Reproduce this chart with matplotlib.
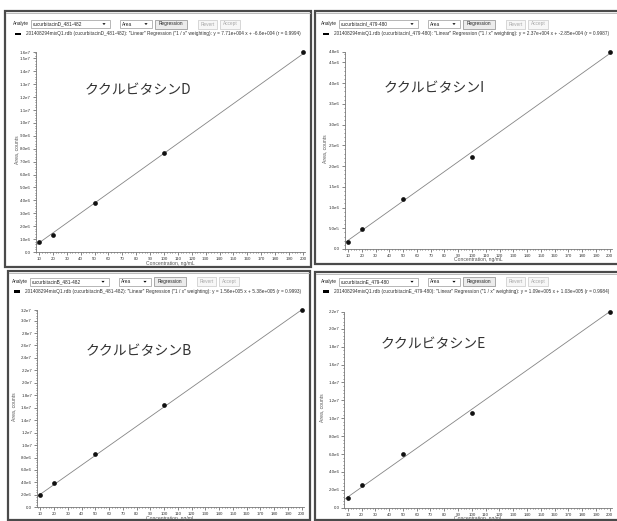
import numpy as np
import matplotlib.pyplot as plt
from matplotlib.patches import Rectangle, Polygon
from matplotlib.ticker import FixedLocator, FuncFormatter, MultipleLocator

W, H = 617, 521

# calibration data read per compound
conc = [10, 20, 50, 100, 200]
names = ['ククルビタシンD', 'ククルビタシンI', 'ククルビタシンB', 'ククルビタシンE']
analytes = ['cucurbitacinD_481-482', 'cucurbitacinI_479-480',
            'cucurbitacinB_481-482', 'cucurbitacinE_479-480']
area_d = [7.7e5, 1.33e6, 3.82e6, 7.7e6, 1.55e7]
area_i = [1.6e5, 4.9e5, 1.2e6, 2.23e6, 4.75e6]
area_b = [2.0e6, 3.9e6, 8.6e6, 1.64e7, 3.17e7]
area_e = [1.12e6, 2.57e6, 6.0e6, 1.06e7, 2.19e7]
areas = [area_d, area_i, area_b, area_e]
slopes = [7.71e4, 2.37e4, 1.56e5, 1.09e5]
intercepts = [-6.6e4, -2.85e4, 5.38e5, 1.03e5]
slope_txt = ['7.71e+004', '2.37e+004', '1.56e+005', '1.09e+005']
intercept_txt = ['-6.6e+004', '-2.85e+004', '5.38e+005', '1.03e+005']
r_txt = ['0.9994', '0.9987', '0.9993', '0.9984']
y_steps = [1e6, 5e5, 2e6, 2e6]

# panel geometry in pixels (x0, y0, x1, y1), y measured from the top
frames = [(5, 11, 311, 267), (315, 11, 619, 264), (8, 271, 310, 520), (315, 272, 619, 520)]
axes_px = [(35.5, 52, 305, 252), (344.6, 52, 611.8, 249),
           (36.9, 310, 303.8, 507.3), (344.3, 311.7, 611.8, 507.7)]
heads = [(13, 24), (321, 24), (12, 281.7), (321, 281.7)]
titles_xy = [(85, 90), (384, 88.3), (86, 351), (381, 344.3)]
ylabel_x = [17, 324.7, 13.3, 321.3]

SMALL = 'Liberation Sans'

fig = plt.figure(figsize=(W / 100, H / 100), dpi=100)
bg = fig.add_axes([0, 0, 1, 1])
bg.set_xlim(0, W)
bg.set_ylim(H, 0)
bg.axis('off')
bg.set_zorder(0)


def sci(v, pos=None):
    if v == 0:
        return '0.0'
    m, e = f'{v:.1e}'.split('e')
    return f'{m}e{int(e)}'


def combo(x, y, w, text, h=8):
    bg.add_patch(Rectangle((x, y - h / 2), w, h, fc='white', ec='#9a9a9a', lw=0.5))
    bg.text(x + 2, y, text, fontsize=3.4, family=SMALL, color='#222', va='center')
    tx = x + w - 6
    bg.add_patch(Polygon([(tx - 1.6, y - 0.8), (tx + 1.6, y - 0.8), (tx, y + 1.0)],
                         fc='black', ec='none'))


def button(x, y, w, text, enabled=True, h=9):
    fc = '#ececec' if enabled else '#f7f7f7'
    ec = '#8a8a8a' if enabled else '#c8c8c8'
    tc = '#222' if enabled else '#a8a8a8'
    bg.add_patch(Rectangle((x, y - h / 2), w, h, fc=fc, ec=ec, lw=0.5))
    bg.text(x + w / 2, y, text, fontsize=3.4, family=SMALL, color=tc,
            va='center', ha='center')


for k in range(4):
    x0, y0, x1, y1 = frames[k]
    bg.add_patch(Rectangle((x0, y0), x1 - x0, y1 - y0, fc='white', ec='#4a4a4a', lw=1.6))
    bg.plot([x0 + 1, x1 - 1], [y0 + 2, y0 + 2], color='#b0b0b0', lw=0.6)

    hx, hy = heads[k]
    bg.text(hx, hy, 'Analyte', fontsize=3.4, family=SMALL, color='#222', va='center')
    combo(hx + 18, hy, 79, analytes[k])
    combo(hx + 107, hy, 32, 'Area')
    button(hx + 142, hy, 32, 'Regression')
    button(hx + 185, hy, 19, 'Revert', enabled=False)
    button(hx + 207, hy, 20, 'Accept', enabled=False)

    ly = hy + 10
    bg.add_patch(Rectangle((hx + 2, ly - 1.3), 6, 2.6, fc='black', ec='none'))
    reg = (f'201408294mixQ1.rdb ({analytes[k]}): "Linear" Regression ("1 / x" weighting): '
           f'y = {slope_txt[k]} x + {intercept_txt[k]} (r = {r_txt[k]})')
    bg.text(hx + 13, ly, reg, fontsize=3.45, family=SMALL, color='#333', va='center')

    # calibration plot
    l, t, r, b = axes_px[k]
    ax = fig.add_axes([l / W, 1 - b / H, (r - l) / W, (b - t) / H])
    ax.set_zorder(1)
    ax.patch.set_alpha(0)
    top = areas[k][-1]
    xs = np.array([7.5, 200])
    ax.plot(xs, slopes[k] * xs + intercepts[k], color='#858585', lw=0.6)
    ax.plot(conc, areas[k], 'o', color='#111', markersize=3.4, mew=0, clip_on=False)
    ax.set_xlim(7.5, 201.5)
    ax.set_ylim(0, top)

    ax.set_xticks(np.arange(10, 201, 10))
    ax.xaxis.set_minor_locator(MultipleLocator(2))
    yt = list(np.arange(0, top - y_steps[k] * 0.05, y_steps[k])) + [top]
    ax.yaxis.set_major_locator(FixedLocator(yt))
    ax.yaxis.set_major_formatter(FuncFormatter(sci))
    ax.yaxis.set_minor_locator(MultipleLocator(y_steps[k] / 5))
    ax.tick_params(which='both', labelsize=3.2, colors='#555', labelcolor='#333',
                   direction='out', width=0.5, pad=1.5)
    ax.tick_params(which='major', length=2)
    ax.tick_params(which='minor', length=1)
    for lab in ax.get_xticklabels() + ax.get_yticklabels():
        lab.set_family(SMALL)
    for side in ('top', 'right'):
        ax.spines[side].set_visible(False)
    for side in ('left', 'bottom'):
        ax.spines[side].set_color('#777')
        ax.spines[side].set_linewidth(0.6)

    bg.text(ylabel_x[k], (t + b) / 2 - 2, 'Area, counts', rotation=90, fontsize=3.6,
            family=SMALL, color='#555', ha='center', va='center')
    bg.text((l + r) / 2, b + 11, 'Concentration, ng/mL', fontsize=3.6,
            family=SMALL, color='#555', ha='center', va='center')

    tx, ty = titles_xy[k]
    bg.text(tx, ty, names[k], fontsize=10, family=['Noto Sans CJK JP', 'DejaVu Sans'],
            color='#333', va='center', ha='left')

fig.savefig('out.png', dpi=100)
